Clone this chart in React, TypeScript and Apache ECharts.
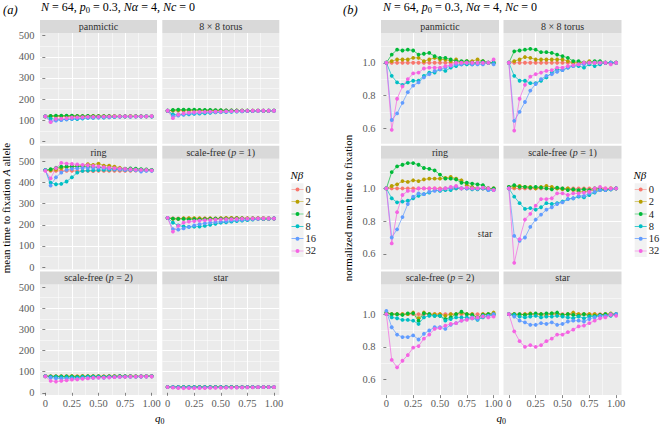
import React, { useEffect, useRef } from 'react';
import * as echarts from 'echarts';

// ---------- data ----------
const q0 = [0, 0.05, 0.1, 0.15, 0.2, 0.25, 0.3, 0.35, 0.4, 0.45, 0.5, 0.55, 0.6, 0.65, 0.7, 0.75, 0.8, 0.85, 0.9, 0.95, 1.0];
const nBetaLabels = ['0', '2', '4', '8', '16', '32'];
const seriesColors = ['#F8766D', '#B79F00', '#00BA38', '#00BFC4', '#619CFF', '#F564E3'];
const facetNames = ['panmictic', '8 × 8 torus', 'ring', 'scale-free (p = 1)', 'scale-free (p = 2)', 'star'];
const xTicks = [0, 0.25, 0.5, 0.75, 1];
const yTicksA = [0, 100, 200, 300, 400, 500];
const yTicksB = [0.6, 0.8, 1.0];

// (a) mean time to fixation of A allele; rows = N-beta 0,2,4,8,16,32
const timePanmictic = [
  [118,118,118,118,118,118,118,118,118,118,118,118,118,118,118,118,118,118,118,118,118],
  [118,119,120,120,120,121,121,119,120,121,120,120,119,120,118,119,119,120,119,118,118],
  [118,121,122,122,122,122,120,120,121,119,119,119,119,118,118,118,118,118,118,118,118],
  [118,108,104,102,104,105,105,108,111,111,113,112,114,115,117,117,117,118,118,118,118],
  [118,95,98,101,104,107,109,110,112,113,114,115,116,117,117,118,117,117,117,118,117],
  [118,91,107,108,110,113,114,115,116,116,116,117,117,118,118,118,118,118,118,118,120],
];
const timeTorus = [
  [145,145,145,145,145,145,145,145,145,145,145,145,145,145,145,145,145,145,145,145,145],
  [145,147,148,148,148,148,148,147,147,147,147,146,146,146,145,145,145,145,145,145,145],
  [145,149,150,150,150,150,149,149,149,148,148,147,147,146,146,146,145,145,145,145,145],
  [145,128,126,127,128,130,131,133,135,137,138,139,140,141,142,143,143,144,144,145,145],
  [145,120,122,127,131,133,135,137,138,139,140,141,142,143,143,144,144,145,145,145,145],
  [145,110,127,133,136,138,139,140,141,141,141,142,143,143,144,144,145,145,145,145,145],
];
const timeRing = [
  [459,455,455,456,455,456,454,455,455,454,456,455,455,456,455,455,456,457,458,458,458],
  [459,459,462,468,473,476,478,480,487,484,490,480,480,475,470,465,462,460,460,459,458],
  [459,463,470,475,476,476,476,476,475,474,472,470,468,466,465,466,467,466,464,462,460],
  [459,400,392,394,405,425,447,455,457,458,459,460,460,461,461,460,460,460,459,458,458],
  [459,386,425,447,460,465,467,469,470,470,470,468,466,464,462,460,460,458,452,455,455],
  [455,420,468,493,490,488,486,484,482,479,476,473,470,468,466,465,463,461,460,460,458],
];
const timeScaleFree1 = [
  [232,231,230,231,230,229,230,231,230,229,230,230,231,230,230,231,230,230,231,230,230],
  [232,228,228,231,232,232,231,229,231,230,232,233,233,233,232,231,231,232,232,232,230],
  [233,229,228,228,226,227,226,227,228,229,229,229,229,230,230,229,230,229,227,228,230],
  [233,210,197,192,190,191,192,195,200,205,210,212,215,218,220,222,225,227,228,229,230],
  [233,180,177,183,190,197,203,207,210,213,215,217,220,222,223,226,228,229,230,230,230],
  [233,168,195,210,215,218,220,222,223,225,226,227,227,228,229,229,230,230,230,230,230],
];
const timeScaleFree2 = [
  [78,78,78,78,78,78,78,78,78,78,78,78,78,78,78,78,78,78,78,78,78],
  [79,78,78,78,78,79,78,79,79,79,79,78,79,79,79,79,79,78,79,79,79],
  [79,78,77,77,77,77,75,77,77,77,77,76,77,78,79,78,78,78,78,78,79],
  [78,75,75,74,74,74,73,75,76,76,76,75,76,76,77,77,77,76,77,78,78],
  [79,72,68,67,67,68,66,69,70,71,72,71,73,74,75,76,76,76,77,77,78],
  [78,56,53,56,59,62,63,66,68,71,72,72,73,74,75,75,76,76,77,77,77],
];
const timeStar = [
  [27,27,27,27,27,27,27,27,27,27,27,27,27,27,27,27,27,27,27,27,27],
  [27,27,27,27,27.1,27,27,26.9,27.1,27,27,27,27.2,27,27,27,27,27,27,27.1,27],
  [27,27,27,27,27,27.1,27,27.1,27.1,27.2,27,27,27,26.9,27,26.9,26.9,27,27,27,27],
  [27,27,26.5,26.5,26.5,26.7,26.5,26.6,26.6,26.7,26.6,26.5,26.4,26.6,26.4,26.6,26.6,26.7,26.7,26.7,27],
  [27,26.6,26,25.7,25.3,25.3,25.5,25.4,25.7,25.3,25.4,25.8,25.9,25.9,25.8,26.2,26.5,26.7,26.7,27,27],
  [27,24.2,22.5,21.6,21.9,21.6,21.9,22.5,23,23.6,23.6,24,24.4,25,25.1,25.5,25.9,26.3,26.5,26.9,26.7],
];

// (b) normalized mean time to fixation
const normPanmictic = [
  [1,1,1,1,1,1,1,1,1,1,1,1,1,1,1,1,1,1,1,1,1],
  [1.0,1.01,1.02,1.02,1.02,1.03,1.03,1.01,1.02,1.03,1.02,1.02,1.01,1.02,1.0,1.01,1.01,1.02,1.01,1.0,1.0],
  [1.0,1.05,1.08,1.075,1.08,1.075,1.05,1.055,1.06,1.04,1.03,1.03,1.02,1.01,1.01,1.01,1.0,1.0,1.01,1.0,1.0],
  [1.0,0.92,0.88,0.865,0.88,0.89,0.89,0.92,0.94,0.94,0.96,0.95,0.97,0.98,0.99,0.99,0.99,1.0,1.0,1.0,1.0],
  [1.0,0.65,0.69,0.755,0.82,0.86,0.88,0.91,0.93,0.95,0.96,0.97,0.98,0.99,0.99,1.0,0.99,0.99,0.99,1.0,0.99],
  [1.0,0.59,0.78,0.855,0.9,0.935,0.94,0.965,0.97,0.97,0.97,0.98,0.985,1.0,1.0,1.0,1.0,1.0,1.0,1.0,1.02],
];
const normTorus = [
  [1,1,1,1,1,1,1,1,1,1,1,1,1,1,1,1,1,1,1,1,1],
  [1.0,1.01,1.02,1.035,1.03,1.02,1.02,1.02,1.02,1.02,1.02,1.01,1.0,1.0,1.0,1.01,1.0,1.0,1.0,1.0,1.0],
  [1.0,1.07,1.075,1.08,1.085,1.08,1.065,1.065,1.06,1.05,1.04,1.03,1.01,1.01,1.0,1.0,1.01,1.01,1.0,1.0,1.0],
  [1.0,0.92,0.89,0.89,0.875,0.875,0.89,0.91,0.94,0.96,0.955,0.97,0.98,0.98,0.97,0.99,0.98,0.99,1.0,1.0,1.0],
  [1.0,0.645,0.7,0.76,0.83,0.87,0.9,0.92,0.93,0.945,0.955,0.97,0.98,0.99,0.99,1.0,1.0,1.0,1.0,1.0,1.0],
  [1.0,0.585,0.78,0.865,0.915,0.93,0.94,0.95,0.955,0.97,0.97,0.98,0.985,0.99,1.0,1.0,1.0,1.0,1.0,0.99,1.0],
];
const normRing = [
  [1,1,1,1,1,1,1,1,1,1,1,1,1,1,1,1,1,1,1,1,1],
  [1.0,1.015,1.025,1.045,1.04,1.05,1.045,1.055,1.06,1.06,1.06,1.065,1.07,1.06,1.05,1.02,1.01,1.0,1.0,1.0,1.0],
  [1.0,1.1,1.135,1.145,1.155,1.155,1.145,1.125,1.12,1.11,1.085,1.06,1.06,1.055,1.035,1.035,1.03,1.025,1.02,1.0,1.0],
  [1.0,0.94,0.915,0.92,0.925,0.94,0.955,0.965,0.975,0.99,0.985,0.99,0.99,1.0,1.0,1.0,0.995,0.995,1.0,0.99,0.99],
  [1.0,0.7,0.75,0.825,0.905,0.95,0.97,0.965,0.98,0.985,0.99,1.0,1.0,1.01,1.0,1.0,1.0,1.0,1.0,0.99,0.99],
  [1.0,0.664,0.855,0.96,0.985,0.985,1.0,1.0,1.0,1.0,0.995,1.0,1.01,1.015,1.0,1.005,1.0,1.0,1.005,1.0,0.99],
];
const normScaleFree1 = [
  [1,1,1,1,1,1,1,1,1,1,1,1,1,1,1,1,1,1,1,1,1],
  [1.01,1.01,1.015,1.01,1.01,1.0,1.01,1.015,1.01,1.0,0.995,1.0,0.99,0.98,0.98,0.985,0.99,0.99,0.995,1.0,1.0],
  [1.01,1.02,1.01,1.01,1.005,1.01,1.005,1.0,0.995,1.005,1.0,0.99,0.995,0.99,0.995,0.99,1.0,0.995,0.99,0.995,1.0],
  [1.0,0.95,0.91,0.875,0.88,0.87,0.885,0.91,0.905,0.91,0.92,0.935,0.94,0.95,0.945,0.96,0.975,0.99,0.99,0.995,1.0],
  [1.0,0.71,0.68,0.7,0.765,0.81,0.84,0.87,0.885,0.905,0.915,0.935,0.94,0.955,0.955,0.97,0.98,0.99,0.99,0.995,1.0],
  [1.0,0.545,0.69,0.81,0.845,0.895,0.935,0.935,0.94,0.97,0.97,0.96,0.97,0.97,0.975,0.98,1.0,1.01,1.0,1.0,1.0],
];
const normScaleFree2 = [
  [1,1,1,1,1,1,1,1,1,1,1,1,1,1,1,1,1,1,1,1,1],
  [1.01,1.0,1.0,1.0,1.0,1.01,0.975,1.01,1.0,1.0,1.0,0.99,1.0,1.0,1.01,1.0,1.0,0.98,1.0,1.0,1.01],
  [1.01,1.0,1.0,0.995,1.005,1.005,0.96,1.005,1.0,0.99,0.99,0.97,0.98,1.0,1.015,1.0,0.995,0.98,0.995,1.0,1.0],
  [1.0,0.98,0.975,0.965,0.965,0.96,0.94,0.98,0.99,0.99,0.99,0.96,0.97,0.98,0.98,0.98,0.975,0.965,0.98,0.99,0.995],
  [1.02,0.92,0.875,0.86,0.86,0.87,0.845,0.88,0.9,0.92,0.92,0.91,0.935,0.945,0.96,0.97,0.98,0.97,0.99,0.99,1.0],
  [1.0,0.72,0.675,0.715,0.75,0.795,0.805,0.85,0.875,0.91,0.915,0.93,0.94,0.945,0.96,0.965,0.975,0.98,0.985,0.98,0.985],
];
const normStar = [
  [1,1,1,1,1,1,1,1,1,1,1,1,1,1,1,1,1,1,1,1,1],
  [1.0,1.0,0.995,1.0,1.005,0.995,1.0,0.99,1.005,1.0,0.995,1.0,1.01,1.0,1.0,1.0,1.0,0.995,1.0,1.005,1.0],
  [1.0,1.0,1.0,0.995,1.0,1.005,1.0,1.005,1.005,1.01,0.995,1.0,0.995,0.99,1.0,0.99,0.99,0.995,1.0,0.995,1.0],
  [1.0,0.995,0.985,0.98,0.985,0.99,0.98,0.985,0.985,0.99,0.985,0.98,0.975,0.985,0.975,0.985,0.985,0.99,0.99,0.99,1.0],
  [1.0,0.985,0.96,0.95,0.935,0.935,0.945,0.94,0.95,0.935,0.94,0.955,0.96,0.96,0.955,0.97,0.98,0.99,0.99,1.0,1.0],
  [1.0,0.895,0.835,0.8,0.81,0.8,0.81,0.835,0.85,0.875,0.875,0.89,0.905,0.925,0.93,0.945,0.96,0.975,0.98,0.995,0.99],
];

// ---------- layout / style ----------
const FONT = "'Liberation Serif', 'DejaVu Serif', 'Times New Roman', serif";
const ROW_TOP = [33, 158.7, 284.4];
const PANEL_H = 110.7;
const STRIP_H = 13;
const TICK_COLOR = '#5A5A5A';
const STRIP_COLOR = '#2E2E2E';
const LEGEND_ICON =
  'path://M0,0L0.01,0L0,0.01ZM12,12L11.99,12L12,11.99ZM0,5.7L12,5.7L12,6.3L0,6.3ZM8,6A2,2,0,1,1,4,6A2,2,0,1,1,8,6Z';

const panels = [
  {
    data: [timePanmictic, timeTorus, timeRing, timeScaleFree1, timeScaleFree2, timeStar],
    colX: [40, 162.3], width: 117,
    yMin: -11, yMax: 513, yStep: 100, yTicks: yTicksA,
    yFmt: (v: number) => String(v),
    tag: '(a)', tagX: 3, subX: 41,
    yTitle: '{n|mean time to fixation }{it|A}{n| allele}', yTitleX: 6,
    legendX: 291.5, ntitleX: 290.5,
  },
  {
    data: [normPanmictic, normTorus, normRing, normScaleFree1, normScaleFree2, normStar],
    colX: [381, 503.5], width: 118,
    yMin: 0.505, yMax: 1.182, yStep: 0.2, yTicks: yTicksB,
    yFmt: (v: number) => v.toFixed(1),
    tag: '(b)', tagX: 343, subX: 383,
    yTitle: '{n|normalized mean time to fixation}', yTitleX: 348,
    legendX: 634.7, ntitleX: 633.5,
  },
];

function richStyles(size: number, color: string) {
  return {
    n: { fontFamily: FONT, fontSize: size, fill: color, color, lineHeight: size + 3 },
    it: { fontFamily: FONT, fontSize: size, fill: color, color, fontStyle: 'italic', lineHeight: size + 3 },
    sub: { fontFamily: FONT, fontSize: size * 0.72, fill: color, color, lineHeight: size * 0.72 + 1, verticalAlign: 'bottom' },
  };
}

function stripRich(name: string) {
  const m = name.match(/^(.*\()p( = \d\))$/);
  return m ? `{n|${m[1]}}{it|p}{n|${m[2]}}` : `{n|${name}}`;
}

function buildOption() {
  const grid: any[] = [];
  const xAxis: any[] = [];
  const yAxis: any[] = [];
  const series: any[] = [];
  const graphic: any[] = [];
  const legend: any[] = [];
  const tickRich = { n: { fontFamily: FONT, fontSize: 10.5, color: TICK_COLOR } };

  panels.forEach((pn, pi) => {
    pn.data.forEach((facetData, f) => {
      const row = Math.floor(f / 2);
      const col = f % 2;
      const gi = pi * 6 + f;
      const left = pn.colX[col];
      const top = ROW_TOP[row];
      grid.push({
        left, top, width: pn.width, height: PANEL_H,
        show: true, backgroundColor: '#EBEBEB', borderWidth: 0,
        containLabel: false, outerBoundsMode: 'none',
      });
      const bottomRow = row === 2;
      xAxis.push({
        type: 'value', gridIndex: gi, min: -0.05, max: 1.05,
        minInterval: 0.25, maxInterval: 0.25,
        axisLine: { show: false },
        axisTick: { show: bottomRow, length: 3, customValues: xTicks, lineStyle: { color: '#333333', width: 0.6 } },
        axisLabel: {
          show: bottomRow, customValues: xTicks, margin: 3,
          fontFamily: FONT, fontSize: 10.5, color: TICK_COLOR, rich: tickRich,
          formatter: (v: number) => `{n|${v === 0 ? '0' : v.toFixed(2)}}`,
        },
        splitLine: { show: true, showMinLine: false, showMaxLine: false, lineStyle: { color: '#FFFFFF', width: 1 } },
        minorTick: { show: false, splitNumber: 2 },
        minorSplitLine: { show: true, lineStyle: { color: '#FFFFFF', width: 0.5 } },
      });
      const leftCol = col === 0;
      yAxis.push({
        type: 'value', gridIndex: gi, min: pn.yMin, max: pn.yMax,
        minInterval: pn.yStep, maxInterval: pn.yStep,
        axisLine: { show: false },
        axisTick: { show: leftCol, length: 3, customValues: pn.yTicks, lineStyle: { color: '#333333', width: 0.6 } },
        axisLabel: {
          show: leftCol, customValues: pn.yTicks, margin: 5.5,
          fontFamily: FONT, fontSize: 10.5, color: TICK_COLOR, rich: tickRich,
          formatter: (v: number) => `{n|${pn.yFmt(v)}}`,
        },
        splitLine: { show: true, showMinLine: false, showMaxLine: false, lineStyle: { color: '#FFFFFF', width: 1 } },
        minorTick: { show: false, splitNumber: 2 },
        minorSplitLine: { show: true, lineStyle: { color: '#FFFFFF', width: 0.5 } },
      });
      // facet strip
      graphic.push({
        type: 'rect', silent: true,
        shape: { x: left, y: top - STRIP_H, width: pn.width, height: STRIP_H },
        style: { fill: '#D9D9D9' },
      });
      graphic.push({
        type: 'text', silent: true,
        x: left + pn.width / 2, y: top - STRIP_H / 2,
        style: {
          text: stripRich(facetNames[f]),
          rich: richStyles(10, STRIP_COLOR),
          fontFamily: FONT, fontSize: 10, fill: STRIP_COLOR,
          align: 'center', verticalAlign: 'middle',
        },
      });
      facetData.forEach((vals, s) => {
        series.push({
          type: 'line', name: nBetaLabels[s],
          xAxisIndex: gi, yAxisIndex: gi,
          data: q0.map((q, i) => [q, vals[i]]),
          symbol: 'circle', symbolSize: 3.8, showSymbol: true,
          color: seriesColors[s],
          itemStyle: { color: seriesColors[s], borderWidth: 0 },
          lineStyle: { color: seriesColors[s], width: 0.7 },
          emphasis: { disabled: true }, silent: true,
        });
      });
    });

    // panel tag and subtitle
    graphic.push({
      type: 'text', silent: true, x: pn.tagX, y: 9.5,
      style: { text: `{it|${pn.tag}}`, rich: richStyles(12.5, '#000'), fontFamily: FONT, fontSize: 12.5, fill: '#000', verticalAlign: 'middle' },
    });
    graphic.push({
      type: 'text', silent: true, x: pn.subX, y: 7,
      style: {
        text: '{it|N}{n| = 64, }{it|p}{sub|0}{n| = 0.3, }{it|Nα}{n| = 4, }{it|Nc}{n| = 0}',
        rich: richStyles(12, '#000'),
        fontFamily: FONT, fontSize: 12, fill: '#000', verticalAlign: 'middle',
      },
    });
    // y title
    graphic.push({
      type: 'text', silent: true, x: pn.yTitleX, y: 208, rotation: Math.PI / 2,
      style: {
        text: pn.yTitle,
        rich: richStyles(11, '#000'),
        fontFamily: FONT, fontSize: 11, fill: '#000', align: 'center', verticalAlign: 'middle',
      },
    });
    // x title
    const cx = (pn.colX[0] + pn.colX[1] + pn.width) / 2;
    graphic.push({
      type: 'text', silent: true, x: cx, y: 418,
      style: {
        text: '{it|q}{sub|0}', rich: richStyles(11, '#000'),
        fontFamily: FONT, fontSize: 11, fill: '#000', align: 'center', verticalAlign: 'middle',
      },
    });
    // legend key background and title
    graphic.push({
      type: 'rect', silent: true, z: -1,
      shape: { x: pn.legendX, y: 183.3, width: 12, height: 73.8 },
      style: { fill: '#F2F2F2' },
    });
    graphic.push({
      type: 'text', silent: true, x: pn.ntitleX, y: 174.5,
      style: { text: '{it|Nβ}', rich: richStyles(11, '#000'), fontFamily: FONT, fontSize: 11, fill: '#000', verticalAlign: 'middle' },
    });
    legend.push({
      data: nBetaLabels, orient: 'vertical', left: pn.legendX, top: 183.3,
      padding: 0, itemWidth: 12, itemHeight: 12.3, itemGap: 0,
      icon: LEGEND_ICON, selectedMode: false,
      itemStyle: { borderWidth: 0 },
      formatter: (name: string) => `{n|${name}}`,
      textStyle: {
        fontFamily: FONT, fontSize: 10.5, color: '#222222', lineHeight: 12.3, padding: [0, 0, 0, -3],
        rich: { n: { fontFamily: FONT, fontSize: 10.5, color: '#222222', lineHeight: 12.3 } },
      },
    });
  });

  // stray label inside the (b) ring panel
  graphic.push({
    type: 'text', silent: true, x: 485, y: 233.5,
    style: { text: '{n|star}', rich: richStyles(10, STRIP_COLOR), fontFamily: FONT, fontSize: 10, fill: STRIP_COLOR, align: 'center', verticalAlign: 'middle' },
  });

  return {
    animation: false,
    backgroundColor: '#FFFFFF',
    textStyle: { fontFamily: FONT },
    grid, xAxis, yAxis, series, legend, graphic,
  };
}

export default function App() {
  const ref = useRef<HTMLDivElement>(null);
  useEffect(() => {
    document.body.style.margin = '0';
    if (!ref.current) return;
    const chart = echarts.init(ref.current, undefined, { renderer: 'svg' });
    chart.setOption(buildOption() as any);
    return () => chart.dispose();
  }, []);
  return <div ref={ref} style={{ width: 660, height: 426 }} />;
}
